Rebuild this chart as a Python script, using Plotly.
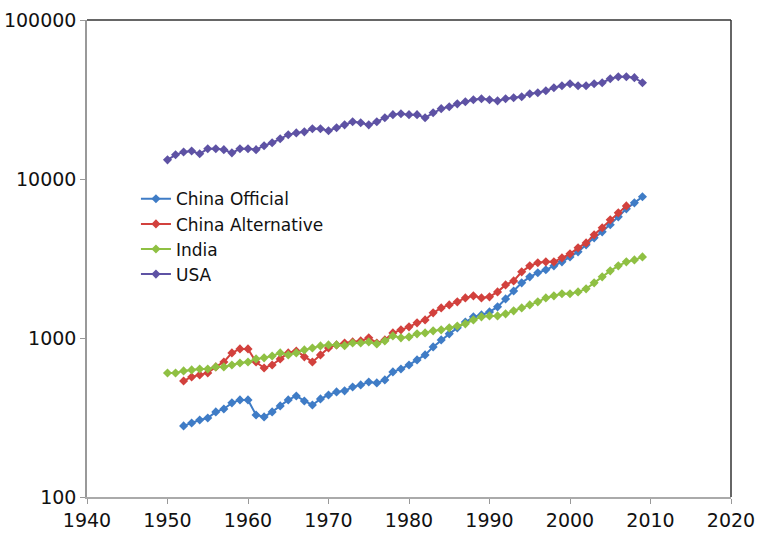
import plotly.graph_objects as go

# Years
years_usa = list(range(1950, 2010))
years_india = list(range(1950, 2010))
years_china_off = list(range(1952, 2010))
years_china_alt = list(range(1952, 2008))

usa = [13200, 14200, 14800, 15000, 14400, 15500, 15500, 15300, 14600, 15500,
       15500, 15300, 16200, 16900, 17900, 19000, 19500, 19800, 20700, 20700,
       20100, 21000, 21900, 22900, 22600, 21900, 22900, 24300, 25400, 25700,
       25400, 25400, 24300, 26100, 27700, 28500, 29700, 30600, 31500, 32000,
       31500, 31000, 32000, 32400, 32900, 34400, 34900, 35900, 37500, 38600,
       39700, 38600, 38600, 39700, 40300, 42700, 44000, 44000, 43400, 40300]

india = [603, 603, 621, 630, 639, 639, 658, 658, 677, 697,
         707, 739, 750, 771, 806, 783, 806, 842, 866, 892,
         905, 905, 895, 931, 931, 945, 918, 959, 1031, 1002,
         1016, 1062, 1077, 1109, 1125, 1158, 1191, 1227, 1300, 1358,
         1377, 1377, 1419, 1482, 1546, 1615, 1688, 1787, 1841, 1896,
         1896, 1950, 2037, 2222, 2425, 2644, 2844, 3013, 3098, 3236]

china_official = [280, 292, 305, 314, 343, 358, 391, 408,
                  408, 328, 319, 343, 374, 408, 432, 402, 379, 414,
                  438, 458, 465, 492, 507, 529, 522, 545, 612, 639,
                  677, 728, 783, 879, 973, 1062, 1158, 1262, 1358, 1397,
                  1459, 1570, 1762, 1977, 2222, 2425, 2570, 2685, 2844, 3013,
                  3236, 3483, 3854, 4266, 4653, 5150, 5780, 6490, 7080, 7730]

china_alternative = [537, 569, 586, 603, 658, 707, 806, 854,
                     854, 707, 648, 677, 739, 806, 829, 761, 707, 783,
                     866, 905, 931, 945, 959, 1002, 931, 973, 1077, 1125,
                     1175, 1245, 1300, 1439, 1546, 1615, 1688, 1787, 1841, 1787,
                     1815, 1950, 2158, 2287, 2606, 2844, 2972, 3013, 3013, 3192,
                     3383, 3690, 3963, 4454, 4931, 5534, 6124, 6776]

x_ticks = [1940, 1950, 1960, 1970, 1980, 1990, 2000, 2010, 2020]
y_ticks = [100, 1000, 10000, 100000]
y_tick_labels = ["100", "1000", "10000", "100000"]

series = [
    ("China Official", years_china_off, china_official, "#3f7cc6"),
    ("China Alternative", years_china_alt, china_alternative, "#d2413d"),
    ("India", years_india, india, "#8fc043"),
    ("USA", years_usa, usa, "#5e52a4"),
]

fig = go.Figure()
for name, xs, ys, col in series:
    fig.add_trace(go.Scatter(
        x=xs, y=ys, name=name, mode="lines+markers",
        line=dict(color=col, width=2),
        marker=dict(symbol="diamond", size=7, color=col),
    ))

font_family = "DejaVu Sans, Verdana, sans-serif"

fig.update_layout(
    width=763, height=533,
    margin=dict(l=87, r=32, t=20, b=36, autoexpand=False),
    paper_bgcolor="white", plot_bgcolor="white",
    showlegend=True,
    legend=dict(
        x=0.076, y=0.662, xanchor="left", yanchor="top",
        bgcolor="rgba(0,0,0,0)",
        font=dict(family=font_family, size=17, color="#111"),
        tracegroupgap=0,
    ),
    font=dict(family=font_family, color="#111"),
)
fig.update_xaxes(
    range=[1940, 2020], tickvals=x_ticks, ticks="outside", ticklen=5,
    tickcolor="#999", showgrid=False, zeroline=False, automargin=False,
    showline=True, linecolor="#aaa", linewidth=1.5,
    tickfont=dict(family=font_family, size=19, color="#111"),
)
fig.update_yaxes(
    type="log", range=[2, 5], tickvals=y_ticks, ticktext=y_tick_labels,
    ticks="outside", ticklen=5, tickcolor="#999", showgrid=False,
    zeroline=False, showline=True, linecolor="#999", linewidth=1.5,
    automargin=False,
    tickfont=dict(family=font_family, size=19, color="#111"),
)
# top and right frame lines (darker)
fig.add_shape(type="line", xref="paper", yref="paper", x0=0, x1=1, y0=1, y1=1,
              line=dict(color="#333", width=1.5))
fig.add_shape(type="line", xref="paper", yref="paper", x0=1, x1=1, y0=0, y1=1,
              line=dict(color="#333", width=1.5))

fig.write_html(
    "out.html",
    config={"displayModeBar": False},
    post_script="document.body.style.margin='0';document.body.style.overflow='hidden';",
)
